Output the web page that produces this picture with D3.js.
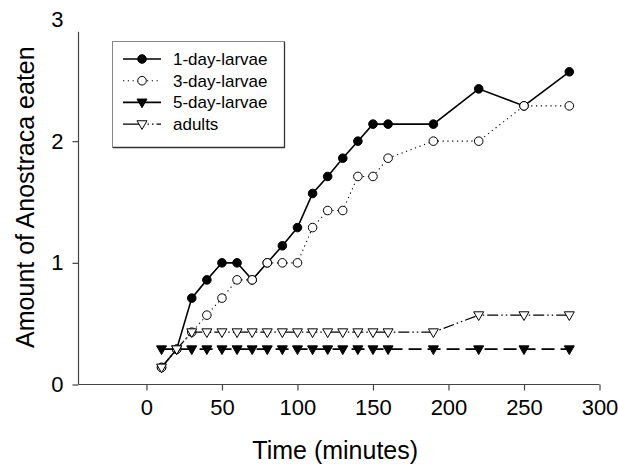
<!DOCTYPE html>
<html>
<head>
<meta charset="utf-8">
<script src="https://cdn.jsdelivr.net/npm/d3@7"></script>
<style>
  html, body { margin: 0; padding: 0; background: #fff; }
  svg { display: block; font-family: Arial, "Liberation Sans", sans-serif; }
</style>
</head>
<body>
<svg id="chart" width="618" height="468"></svg>
<script>
// Sampling times (minutes)
const times = [10, 20, 30, 40, 50, 60, 70, 80, 90, 100, 110, 120, 130, 140, 150, 160, 190, 220, 250, 280];

// Cumulative amount of Anostraca eaten per group
const larvae1 = [0.14, 0.29, 0.71, 0.86, 1.00, 1.00, 0.86, 1.00, 1.14, 1.29, 1.57, 1.71, 1.86, 2.00, 2.14, 2.14, 2.14, 2.43, 2.29, 2.57];
const larvae3 = [0.14, 0.29, 0.43, 0.57, 0.71, 0.86, 0.86, 1.00, 1.00, 1.00, 1.29, 1.43, 1.43, 1.71, 1.71, 1.86, 2.00, 2.00, 2.29, 2.29];
const larvae5 = [0.29, 0.29, 0.29, 0.29, 0.29, 0.29, 0.29, 0.29, 0.29, 0.29, 0.29, 0.29, 0.29, 0.29, 0.29, 0.29, 0.29, 0.29, 0.29, 0.29];
const adults  = [0.14, 0.29, 0.43, 0.43, 0.43, 0.43, 0.43, 0.43, 0.43, 0.43, 0.43, 0.43, 0.43, 0.43, 0.43, 0.43, 0.43, 0.57, 0.57, 0.57];

const seriesNames = ["1-day-larvae", "3-day-larvae", "5-day-larvae", "adults"];
const xTicks = [0, 50, 100, 150, 200, 250, 300];
const yTicks = [0, 1, 2];
const yLabels = [0, 1, 2, 3];

const series = [
  { name: seriesNames[0], values: larvae1, marker: "circle", fill: "#000", dash: null, width: 1.6 },
  { name: seriesNames[1], values: larvae3, marker: "circle", fill: "#fff", dash: "1.2,3.6", width: 1.1 },
  { name: seriesNames[2], values: larvae5, marker: "triangle", fill: "#000", dash: "13,6", width: 1.8 },
  { name: seriesNames[3], values: adults,  marker: "triangle", fill: "#fff", dash: "11,3,1.5,3,1.5,3", width: 1.2 }
];

const svg = d3.select("#chart");

const x = d3.scaleLinear().domain([-45, 300]).range([78.5, 599.5]);
const y = d3.scaleLinear().domain([0, 3]).range([384.5, 19.5]);
const yTop = 2.9;

const axisColor = "#444";

// Axes
const xAxis = svg.append("g").attr("transform", `translate(0,${y(0)})`)
  .call(d3.axisBottom(x).tickValues(xTicks).tickSize(6).tickPadding(9).tickSizeOuter(0).tickFormat(d3.format("d")));
const yAxis = svg.append("g").attr("transform", `translate(${x(-45)},0)`)
  .call(d3.axisLeft(y).tickValues(yTicks).tickSize(6).tickPadding(9).tickSizeOuter(0).tickFormat(d3.format("d")));

[xAxis, yAxis].forEach(g => {
  g.select(".domain").attr("stroke", axisColor).attr("stroke-width", 1.2);
  g.selectAll(".tick line").attr("stroke", axisColor).attr("stroke-width", 1.2);
  g.selectAll(".tick text").attr("fill", "#000").attr("font-size", 22)
    .attr("font-family", "Arial, 'Liberation Sans', sans-serif");
});
// vertical axis runs only to its upper limit, and the top label sits above it
yAxis.select(".domain").attr("d", `M0,${y(0)}V${y(yTop)}`);
xAxis.select(".domain").attr("d", `M${x(-45)},0H${x(300)}`);
yAxis.selectAll(".extra-label").data(yLabels.filter(v => !yTicks.includes(v))).enter()
  .append("text").attr("class", "extra-label")
  .attr("x", -15).attr("y", d => y(d)).attr("dy", "0.32em")
  .attr("fill", "#000")
  .attr("text-anchor", "end").attr("font-size", 22).text(d => d);

// Axis titles
svg.append("text").attr("x", x(125)).attr("y", 459).attr("text-anchor", "middle")
  .attr("font-size", 25).text("Time (minutes)");
svg.append("text").attr("transform", `translate(34,${y(1.54)}) rotate(-90)`)
  .attr("text-anchor", "middle").attr("font-size", 25).text("Amount of Anostraca eaten");

// Marker shapes
const circleSym = d3.symbol().type(d3.symbolCircle).size(Math.PI * 4.3 * 4.3);
function triPath(cx, cy, s) {
  // inverted triangle centred on (cx, cy)
  const h = s * 0.87;
  return `M${cx - s / 2},${cy - h / 2}L${cx + s / 2},${cy - h / 2}L${cx},${cy + h / 2}Z`;
}
function drawMarker(g, s, cx, cy) {
  if (s.marker === "circle") {
    g.append("path").attr("d", circleSym()).attr("transform", `translate(${cx},${cy})`)
      .attr("fill", s.fill).attr("stroke", "#000").attr("stroke-width", 1);
  } else {
    g.append("path").attr("d", triPath(cx, cy + 1, 10))
      .attr("fill", s.fill).attr("stroke", "#000").attr("stroke-width", 1).attr("stroke-linejoin", "miter");
  }
}

// Series lines and markers
const line = d3.line().x(d => x(d[0])).y(d => y(d[1]));
const plot = svg.append("g");
series.forEach(s => {
  const pts = times.map((t, i) => [t, s.values[i]]);
  const g = plot.append("g");
  g.append("path").datum(pts).attr("d", line).attr("fill", "none")
    .attr("stroke", "#000").attr("stroke-width", s.width)
    .attr("stroke-dasharray", s.dash);
  pts.forEach(p => drawMarker(g, s, x(p[0]), y(p[1])));
});

// Legend
const lg = svg.append("g");
lg.append("rect").attr("x", 112.5).attr("y", 41.5).attr("width", 172).attr("height", 106)
  .attr("fill", "#fff").attr("stroke", "#888").attr("stroke-width", 1);
lg.append("path").attr("d", "M113,147.5H284.5V42").attr("fill", "none").attr("stroke", "#333").attr("stroke-width", 1.3);
const legendDash = [null, "1.2,3.6", null, "17,3,1.5,3,1.5,3,1.5,3"];
series.forEach((s, i) => {
  const cy = 59 + i * 21.7;
  lg.append("line").attr("x1", 123).attr("x2", 161).attr("y1", cy).attr("y2", cy)
    .attr("stroke", "#000").attr("stroke-width", s.width)
    .attr("stroke-dasharray", legendDash[i]);
  drawMarker(lg, s, 142, cy);
  lg.append("text").attr("x", 173).attr("y", cy).attr("dy", "0.35em")
    .attr("font-size", 17).text(s.name);
});
</script>
</body>
</html>
